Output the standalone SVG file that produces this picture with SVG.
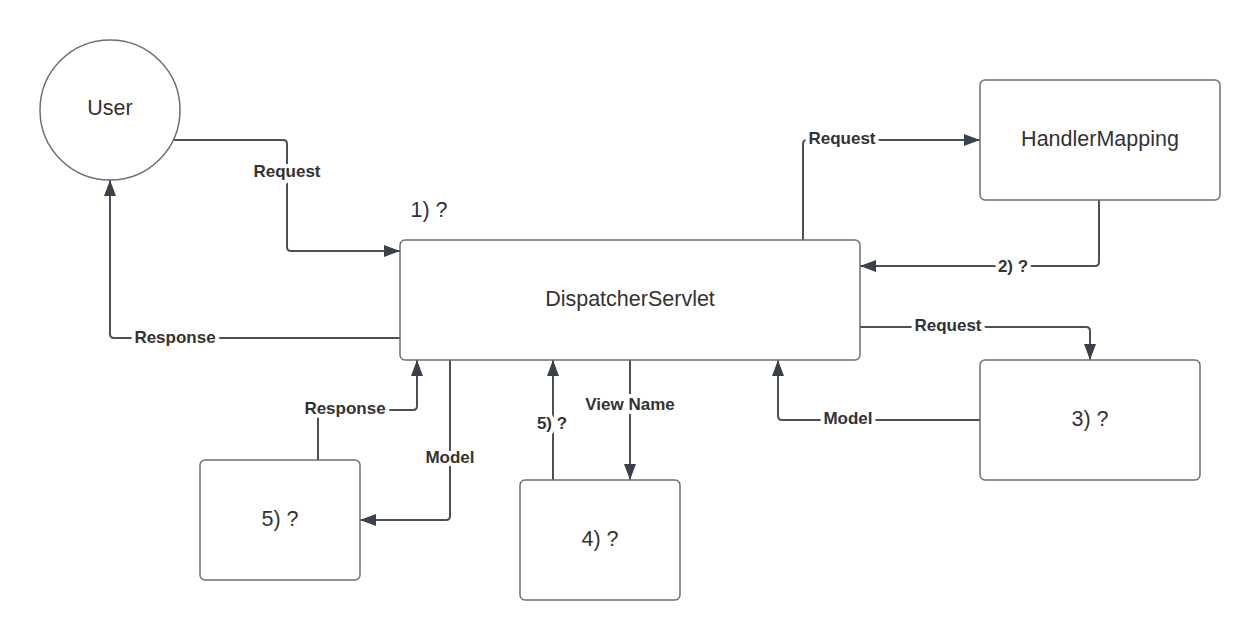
<svg xmlns="http://www.w3.org/2000/svg" width="1260" height="640" viewBox="0 0 1260 640">
<style>
.node{fill:#fff;stroke:#6b6f77;stroke-width:1.5}
.nt{font-family:"Liberation Sans",Arial,sans-serif;font-size:21.5px;fill:#333;text-anchor:middle;dominant-baseline:central}
.ln{fill:none;stroke:#4a5059;stroke-width:2;stroke-linejoin:round}
.lb{font-family:"Liberation Sans",Arial,sans-serif;font-size:17px;font-weight:bold;fill:#333;text-anchor:middle;dominant-baseline:central;stroke:#fff;stroke-width:8;paint-order:stroke;stroke-linejoin:round}
</style>
<defs>
<marker id="ah" viewBox="0 0 16 12" refX="16" refY="6" markerWidth="16" markerHeight="12" markerUnits="userSpaceOnUse" orient="auto">
<path d="M0,0 L16,6 L0,12 Z" fill="#3a414a"/>
</marker>
</defs>
<rect width="1260" height="640" fill="#fff"/>
<g id="connectors">
<path class="ln" marker-end="url(#ah)" d="M173,140 H283 Q287,140 287,144 V247 Q287,251 291,251 H400"/>
<path class="ln" marker-end="url(#ah)" d="M400,338 H114 Q110,338 110,334 V180"/>
<path class="ln" marker-end="url(#ah)" d="M803,240 V144 Q803,140 807,140 H980"/>
<path class="ln" marker-end="url(#ah)" d="M1099,200 V262 Q1099,266 1095,266 H860"/>
<path class="ln" marker-end="url(#ah)" d="M860,327 H1086 Q1090,327 1090,331 V360"/>
<path class="ln" marker-end="url(#ah)" d="M980,420 H782 Q778,420 778,416 V360"/>
<path class="ln" marker-end="url(#ah)" d="M318,460 V410 H413 Q417,410 417,406 V360"/>
<path class="ln" marker-end="url(#ah)" d="M450,360 V516 Q450,520 446,520 H360"/>
<path class="ln" marker-end="url(#ah)" d="M553,480 V360"/>
<path class="ln" marker-end="url(#ah)" d="M630,360 V480"/>
<text class="lb" x="287" y="171">Request</text>
<text class="lb" x="175" y="337">Response</text>
<text class="lb" x="842" y="138">Request</text>
<text class="lb" x="1013" y="266">2) ?</text>
<text class="lb" x="948" y="325">Request</text>
<text class="lb" x="848" y="418">Model</text>
<text class="lb" x="345" y="408">Response</text>
<text class="lb" x="450" y="457">Model</text>
<text class="lb" x="552" y="423">5) ?</text>
<text class="lb" x="630" y="404">View Name</text>
</g>
<g id="user">
<circle class="node" cx="110" cy="110" r="70"/>
<text class="nt" x="110" y="108">User</text>
</g>
<g id="dispatcher">
<rect class="node" x="400" y="240" width="460" height="120" rx="5"/>
<text class="nt" x="630" y="299">DispatcherServlet</text>
<text class="nt" x="429" y="210">1) ?</text>
</g>
<g id="handlermapping">
<rect class="node" x="980" y="80" width="240" height="120" rx="5"/>
<text class="nt" x="1100" y="139">HandlerMapping</text>
</g>
<g id="n3">
<rect class="node" x="980" y="360" width="220" height="120" rx="5"/>
<text class="nt" x="1090" y="419">3) ?</text>
</g>
<g id="n5">
<rect class="node" x="200" y="460" width="160" height="120" rx="5"/>
<text class="nt" x="280" y="519">5) ?</text>
</g>
<g id="n4">
<rect class="node" x="520" y="480" width="160" height="120" rx="5"/>
<text class="nt" x="600" y="539">4) ?</text>
</g>
</svg>
